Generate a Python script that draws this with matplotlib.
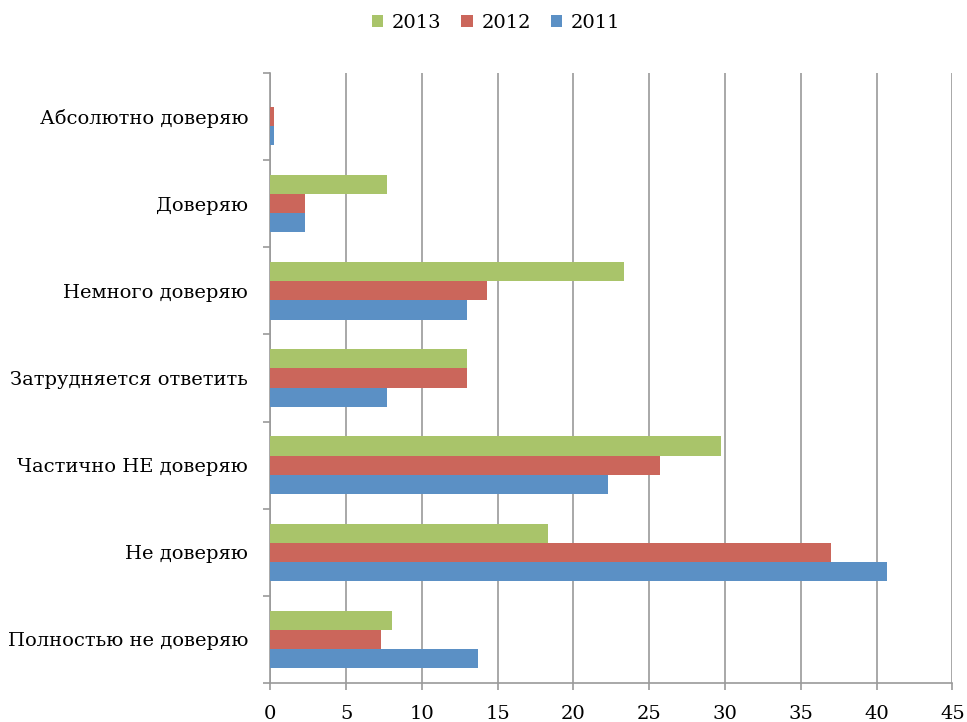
import matplotlib
matplotlib.use("Agg")
import matplotlib.pyplot as plt
import numpy as np

categories = ["Абсолютно доверяю", "Доверяю", "Немного доверяю",
              "Затрудняется ответить", "Частично НЕ доверяю",
              "Не доверяю", "Полностью не доверяю"]
years = ["2013", "2012", "2011"]
v2013 = [0.0, 7.7, 23.3, 13.0, 29.7, 18.3, 8.0]
v2012 = [0.25, 2.3, 14.3, 13.0, 25.7, 37.0, 7.3]
v2011 = [0.25, 2.3, 13.0, 7.7, 22.3, 40.7, 13.7]
colors = ["#A9C46A", "#CB665B", "#5B90C5"]

plt.rcParams["font.family"] = ["DejaVu Serif"]

fig = plt.figure(figsize=(9.67, 7.22), dpi=100)
ax = fig.add_axes([0.2795, 0.054, 0.7055, 0.845])

y = np.arange(len(categories))
h = 0.22
for vals, off, c, lab in zip([v2013, v2012, v2011], [-h, 0, h], colors, years):
    ax.barh(y + off, vals, height=h, color=c, label=lab, zorder=3)

ax.set_ylim(len(categories) - 0.5, -0.5)
ax.set_xlim(0, 45)
ax.set_xticks(range(0, 46, 5))
ax.set_yticks(y)
ax.set_yticklabels(categories)
ax.set_yticks(np.arange(len(categories) + 1) - 0.5, minor=True)

grid_c = "#9A9A9A"
ax.grid(axis="x", color=grid_c, lw=1.2, zorder=0)
for s in ["top", "right"]:
    ax.spines[s].set_visible(False)
for s in ["left", "bottom"]:
    ax.spines[s].set_color(grid_c)
    ax.spines[s].set_linewidth(1.2)
ax.tick_params(axis="y", which="major", length=0, pad=16, labelsize=14)
ax.tick_params(axis="y", which="minor", length=5, width=1.2, color=grid_c)
ax.tick_params(axis="x", length=5, width=1.2, color=grid_c, pad=11, labelsize=14)

fig.legend(loc="upper center", bbox_to_anchor=(0.513, 1.005), ncol=3, frameon=False,
           fontsize=14, handlelength=0.6, handleheight=0.6, columnspacing=1.0,
           handletextpad=0.45)

fig.savefig("out.png", dpi=100)
